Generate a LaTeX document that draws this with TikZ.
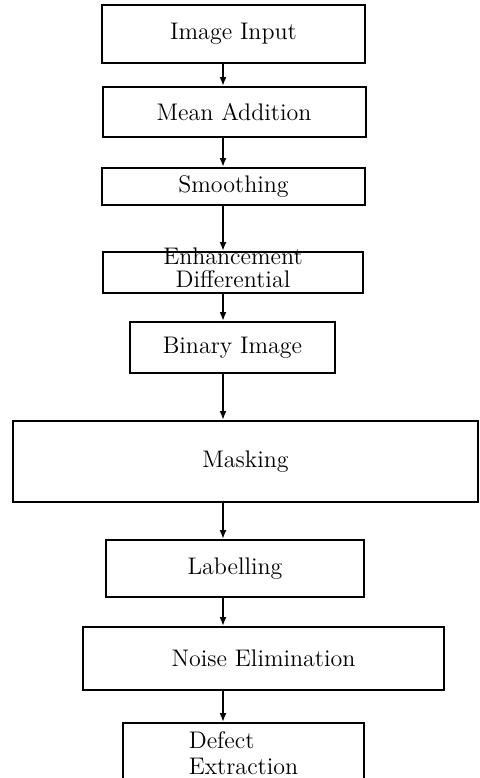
\documentclass[tikz,border=0pt]{standalone}
\usetikzlibrary{arrows.meta}
\begin{document}
\begin{tikzpicture}[x=0.5pt,y=-0.5pt,
    block/.style={draw,line width=1pt,inner sep=0pt,font=\fontsize{12}{12.5}\selectfont},
    flow/.style={line width=1pt,-{Latex[length=4.5pt,width=3.5pt]}}]
                        \useasboundingbox (0,0) rectangle (479,778);
                        \clip (0,0) rectangle (479,778);

                        % Axis of the arrows
                        \coordinate (ax) at (223,0);

                        % Drawing the boxes
                        \node [block,minimum width=131.5pt,minimum height=29pt] (input) at (233.5,34) {Image Input};
                        \node [block,minimum width=131.5pt,minimum height=25pt] (mean) at (234,112) {Mean Addition};
                        \node [block,minimum width=131.5pt,minimum height=18.5pt] (smooth) at (233.5,186.5) {Smoothing};
                        \node [block,minimum width=130pt,text height=17.5pt,text depth=3pt,align=center,font=\fontsize{12}{11.5}\selectfont] (diff) at (233,272.5) {Enhancement\\Differential};
                        \node [block,minimum width=102.5pt,minimum height=25.5pt] (binary) at (232.5,347.5) {Binary Image};
                        \node [block,minimum width=232.5pt,minimum height=40.5pt] (mask) at (245.5,461.5) {Masking};
                        \node [block,minimum width=129pt,minimum height=28.5pt] (label) at (235,568.5) {Labelling};
                        \node [block,minimum width=180.5pt,minimum height=31.5pt] (noise) at (263.5,658.5) {Noise Elimination};
                        \node [block,minimum width=120.5pt,minimum height=30pt,align=left,font=\fontsize{12}{13}\selectfont,anchor=north] (defect) at (243.5,722) {Defect\\Extraction};

                        % Drawing the arrows
                        \draw [flow] (input.south -| ax) -- (mean.north -| ax);
                        \draw [flow] (mean.south -| ax) -- (smooth.north -| ax);
                        \draw [flow] (smooth.south -| ax) -- (diff.north -| ax);
                        \draw [flow] (diff.south -| ax) -- (binary.north -| ax);
                        \draw [flow] (binary.south -| ax) -- (mask.north -| ax);
                        \draw [flow] (mask.south -| ax) -- (label.north -| ax);
                        \draw [flow] (label.south -| ax) -- (noise.north -| ax);
                        \draw [flow] (noise.south -| ax) -- (defect.north -| ax);
                    \end{tikzpicture}
\end{document}
